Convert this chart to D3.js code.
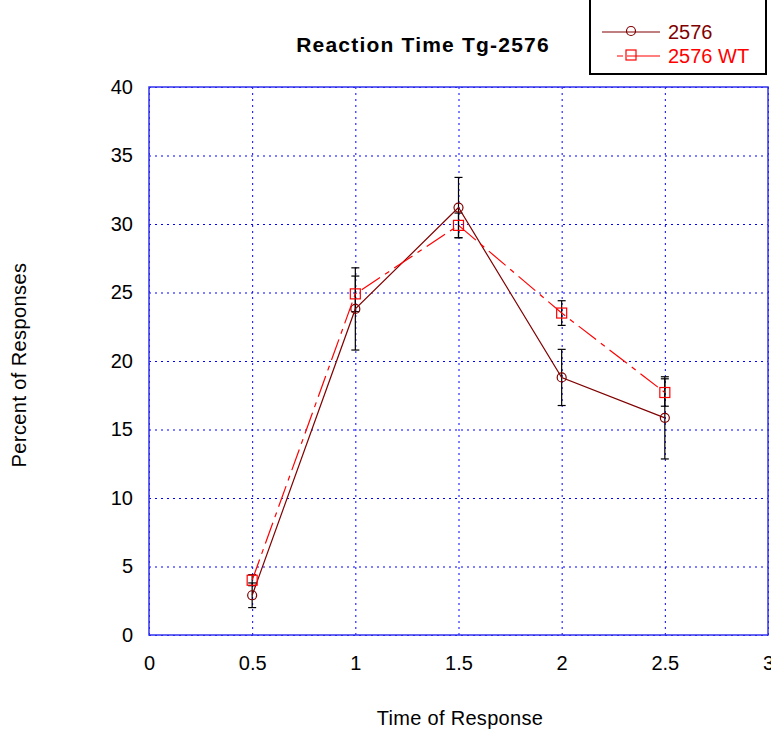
<!DOCTYPE html>
<html>
<head>
<meta charset="utf-8">
<script src="https://cdn.jsdelivr.net/npm/d3@7"></script>
<style>
  body { margin: 0; background: #fff; }
  text { font-family: "Liberation Sans", Arial, sans-serif; }
</style>
</head>
<body>
<div class="chart"></div>
<script>
// values
let times = [0.5, 1, 1.5, 2, 2.5];
let tgValues = [2.9, 23.8, 31.2, 18.8, 15.85];
let tgErrors = [0.9, 3.0, 2.2, 2.05, 3.0];
let wtValues = [4.0, 24.9, 29.9, 23.5, 17.7];
let wtErrors = [0.4, 1.3, 0.9, 0.9, 1.0];
let xTicks = [0, 0.5, 1, 1.5, 2, 2.5, 3];
let yTicks = [0, 5, 10, 15, 20, 25, 30, 35, 40];

let margin = { top: 87, right: 3, bottom: 97, left: 149 };
let totalW = 771, totalH = 732;
let width = totalW - margin.left - margin.right;
let height = totalH - margin.top - margin.bottom;

let svg = d3.select(".chart").append("svg")
    .attr("width", totalW)
    .attr("height", totalH);

let plot = svg.append("g").attr("transform", `translate(${margin.left},${margin.top})`);

let xScale = d3.scaleLinear().domain([0, 3]).range([0, width]);
let yScale = d3.scaleLinear().domain([0, 40]).range([height, 0]);

// grid
plot.append("g")
    .call(d3.axisBottom(xScale).tickValues(xTicks).tickSize(height).tickFormat(""))
    .call(g => g.select(".domain").remove())
    .selectAll("line")
    .attr("stroke", "#0000ff").attr("stroke-dasharray", "2,4").attr("stroke-width", 1);

plot.append("g")
    .call(d3.axisLeft(yScale).tickValues(yTicks).tickSize(-width).tickFormat(""))
    .call(g => g.select(".domain").remove())
    .selectAll("line")
    .attr("stroke", "#0000ff").attr("stroke-dasharray", "2,4").attr("stroke-width", 1);

// frame
plot.append("rect")
    .attr("x", 0).attr("y", 0).attr("width", width).attr("height", height)
    .attr("fill", "none").attr("stroke", "#3333ee").attr("stroke-width", 1.5);

// tick labels
plot.append("g")
    .attr("transform", `translate(0,${height})`)
    .call(d3.axisBottom(xScale).tickValues(xTicks).tickSize(0).tickPadding(21).tickFormat(d3.format("")))
    .call(g => g.select(".domain").remove())
    .selectAll("text")
    .attr("font-size", 20).attr("fill", "#000")
    .style("font-family", "Liberation Sans, Arial, sans-serif");

plot.append("g")
    .call(d3.axisLeft(yScale).tickValues(yTicks).tickSize(0).tickPadding(16))
    .call(g => g.select(".domain").remove())
    .selectAll("text")
    .attr("font-size", 20).attr("fill", "#000")
    .style("font-family", "Liberation Sans, Arial, sans-serif");

// titles
svg.append("text")
    .attr("x", 423).attr("y", 52)
    .attr("text-anchor", "middle")
    .attr("font-size", 21).attr("font-weight", "bold")
    .attr("letter-spacing", 1.2)
    .text("Reaction Time Tg-2576");

svg.append("text")
    .attr("x", 460).attr("y", 725)
    .attr("text-anchor", "middle")
    .attr("font-size", 20)
    .attr("letter-spacing", 0.3)
    .text("Time of Response");

svg.append("text")
    .attr("transform", "translate(26,365) rotate(-90)")
    .attr("text-anchor", "middle")
    .attr("font-size", 20)
    .attr("letter-spacing", 0.4)
    .text("Percent of Responses");

let series = [
    { name: "2576", values: tgValues, errors: tgErrors, color: "#800000", dash: null, marker: "circle" },
    { name: "2576 WT", values: wtValues, errors: wtErrors, color: "#ff0000", dash: "22,6,5,6", marker: "square" }
];

let line = d3.line()
    .x((d, i) => xScale(times[i]))
    .y(d => yScale(d));

// error bars
series.forEach(s => {
    let eb = plot.append("g");
    s.values.forEach((v, i) => {
        let x = xScale(times[i]);
        let y1 = yScale(v - s.errors[i]);
        let y2 = yScale(v + s.errors[i]);
        eb.append("line").attr("x1", x).attr("x2", x).attr("y1", y1).attr("y2", y2)
            .attr("stroke", "#000").attr("stroke-width", 1.2);
        [y1, y2].forEach(y => {
            eb.append("line").attr("x1", x - 4).attr("x2", x + 4).attr("y1", y).attr("y2", y)
                .attr("stroke", "#000").attr("stroke-width", 1.2);
        });
    });
});

function drawMarker(g, type, x, y, color) {
    if (type === "circle") {
        g.append("circle").attr("cx", x).attr("cy", y).attr("r", 4.5)
            .attr("fill", "none").attr("stroke", color).attr("stroke-width", 1.2);
    } else {
        g.append("rect").attr("x", x - 5).attr("y", y - 5).attr("width", 10).attr("height", 10)
            .attr("fill", "none").attr("stroke", color).attr("stroke-width", 1.2);
    }
}

series.forEach(s => {
    plot.append("path")
        .attr("d", line(s.values))
        .attr("fill", "none")
        .attr("stroke", s.color)
        .attr("stroke-width", 1.2)
        .attr("stroke-dasharray", s.dash);
    let mg = plot.append("g");
    s.values.forEach((v, i) => drawMarker(mg, s.marker, xScale(times[i]), yScale(v), s.color));
});

// legend
let legend = svg.append("g");
legend.append("rect")
    .attr("x", 590).attr("y", -2).attr("width", 176).attr("height", 76)
    .attr("fill", "#fff").attr("stroke", "#000").attr("stroke-width", 2);

series.forEach((s, i) => {
    let y = 32 + i * 24;
    let x1 = i === 0 ? 602 : 617;
    legend.append("line")
        .attr("x1", x1).attr("x2", 660).attr("y1", y).attr("y2", y)
        .attr("stroke", s.color).attr("stroke-width", 1.2)
        .attr("stroke-dasharray", i === 0 ? null : "6,4,40");
    drawMarker(legend, s.marker, 631, y - 1, s.color);
    legend.append("text")
        .attr("x", 668).attr("y", y + 7)
        .attr("font-size", 20)
        .attr("fill", s.color)
        .text(s.name);
});
</script>
</body>
</html>
